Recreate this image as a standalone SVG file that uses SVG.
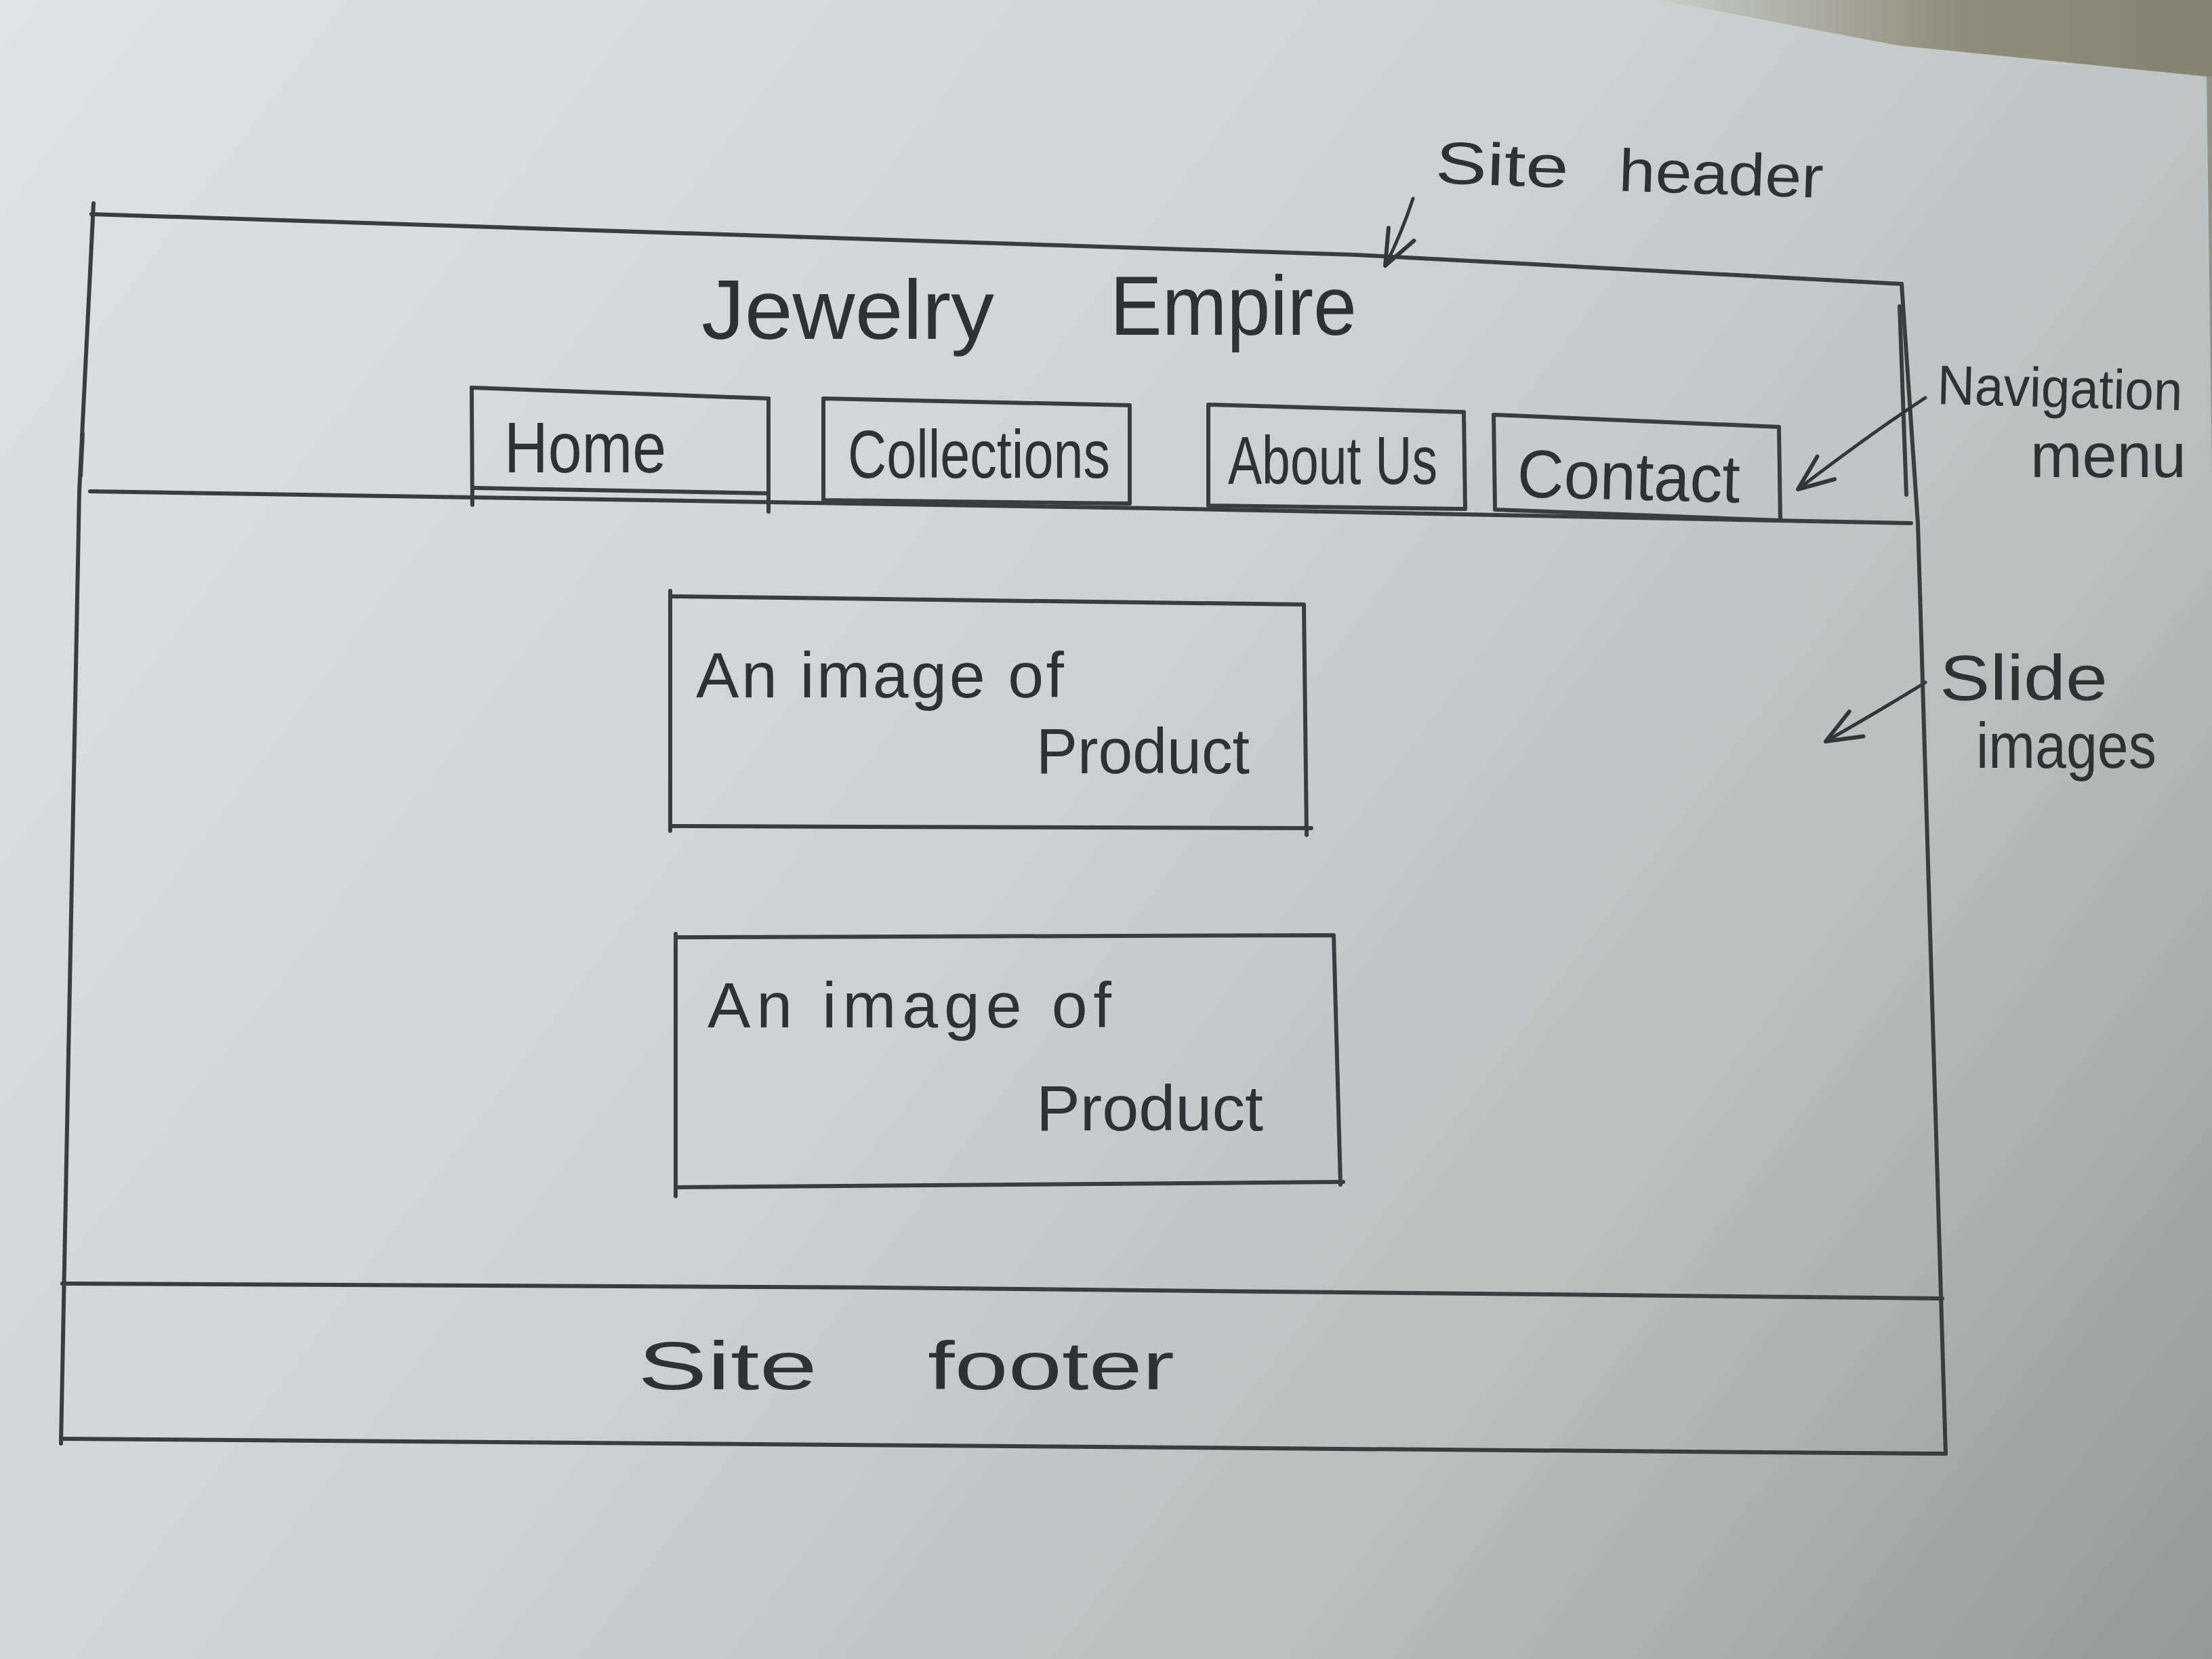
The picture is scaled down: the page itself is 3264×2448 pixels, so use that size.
<svg xmlns="http://www.w3.org/2000/svg" width="3264" height="2448" viewBox="0 0 3264 2448">
  <defs>
    <linearGradient id="paper" x1="0" y1="0" x2="3264" y2="2448" gradientUnits="userSpaceOnUse">
      <stop offset="0" stop-color="#dde3e2"/>
      <stop offset="0.45" stop-color="#cdd3d2"/>
      <stop offset="0.75" stop-color="#b7bdbb"/>
      <stop offset="1" stop-color="#939996"/>
    </linearGradient>
    <linearGradient id="table" x1="2450" y1="0" x2="3264" y2="0" gradientUnits="userSpaceOnUse">
      <stop offset="0" stop-color="#c9cdc7"/>
      <stop offset="0.55" stop-color="#8e8c7a"/>
      <stop offset="1" stop-color="#858371"/>
    </linearGradient>
    <marker id="arrow" viewBox="0 0 60 50" refX="56" refY="25" markerWidth="60" markerHeight="50" markerUnits="userSpaceOnUse" orient="auto">
      <path d="M4,4 L56,25 L4,46" fill="none" stroke="#34373a" stroke-width="6" stroke-linecap="round" stroke-linejoin="round"/>
    </marker>
    <style>
      .ln { fill: none; stroke: #3a3d40; stroke-width: 6; stroke-linecap: round; stroke-linejoin: round; }
      .hw { font-family: "Liberation Sans", "DejaVu Sans", sans-serif; fill: #2f3234; }
      .conn { fill: none; stroke: #34373a; stroke-width: 5; stroke-linecap: round; }
    </style>
  </defs>

  <!-- paper background -->
  <rect x="0" y="0" width="3264" height="2448" fill="url(#paper)"/>
  <polygon points="2450,0 3264,0 3264,118 3258,113 2800,67" fill="url(#table)"/>
  <polygon points="3256,113 3264,113 3264,700" fill="#8f918a"/>

  <!-- page frame -->
  <g id="frame">
    <path class="ln" d="M135,316 Q1100,350 2000,376 L2806,419"/>
    <path class="ln" d="M2806,419 L2830,772 L2871,2145"/>
    <path class="ln" d="M2803,452 L2813,730" stroke-width="9"/>
    <path class="ln" d="M138,300 L117,725 L90,2130"/>
    <path class="ln" d="M122,640 L119,702" stroke-width="9"/>
    <path class="ln" d="M90,2123 L2871,2145"/>
  </g>

  <!-- site header -->
  <g id="header">
    <path class="ln" d="M133,725 L1700,750 L2820,772"/>
    <text class="hw" font-size="125"><tspan x="1035" y="500" textLength="432" lengthAdjust="spacingAndGlyphs">Jewelry</tspan> <tspan x="1638" y="494" textLength="364" lengthAdjust="spacingAndGlyphs">Empire</tspan></text>
  </g>

  <!-- navigation items -->
  <g id="nav-home">
    <path class="ln" d="M696,572 L1134,588 L1134,755"/>
    <path class="ln" d="M696,572 L697,745"/>
    <path class="ln" d="M700,720 L1134,728"/>
    <text class="hw" x="744" y="697" font-size="105" textLength="239" lengthAdjust="spacingAndGlyphs">Home</text>
  </g>
  <g id="nav-collections">
    <path class="ln" d="M1215,588 L1667,598 L1667,743 L1215,738 Z"/>
    <text class="hw" x="1251" y="705" font-size="100" textLength="387" lengthAdjust="spacingAndGlyphs">Collections</text>
  </g>
  <g id="nav-about">
    <path class="ln" d="M1783,597 L2160,608 L2162,751 L1783,746 Z"/>
    <text class="hw" x="1812" y="714" font-size="100" textLength="309" lengthAdjust="spacingAndGlyphs">About Us</text>
  </g>
  <g id="nav-contact">
    <path class="ln" d="M2204,612 L2625,630 L2627,768 L2206,752 Z"/>
    <text class="hw" x="2238" y="733" font-size="100" textLength="329" lengthAdjust="spacingAndGlyphs" transform="rotate(1.5 2238 733)">Contact</text>
  </g>

  <!-- product images -->
  <g id="product-1">
    <path class="ln" d="M990,880 L1924,892 L1928,1232"/>
    <path class="ln" d="M989,872 L989,1226"/>
    <path class="ln" d="M989,1219 L1935,1222"/>
    <text class="hw" x="1027" y="1029" font-size="95" textLength="543" lengthAdjust="spacing">An image of</text>
    <text class="hw" x="1529" y="1141" font-size="95" textLength="315" lengthAdjust="spacingAndGlyphs">Product</text>
  </g>
  <g id="product-2">
    <path class="ln" d="M1000,1383 L1968,1380 L1978,1748"/>
    <path class="ln" d="M997,1378 L997,1765"/>
    <path class="ln" d="M999,1752 L1982,1744"/>
    <text class="hw" x="1044" y="1516" font-size="95" textLength="596" lengthAdjust="spacing">An image of</text>
    <text class="hw" x="1529" y="1668" font-size="95" textLength="335" lengthAdjust="spacingAndGlyphs">Product</text>
  </g>

  <!-- site footer -->
  <g id="footer">
    <path class="ln" d="M92,1894 L1300,1900 L2866,1916"/>
    <text class="hw" font-size="100"><tspan x="941" y="2050" textLength="265" lengthAdjust="spacingAndGlyphs">Site</tspan> <tspan x="1369" y="2050" textLength="364" lengthAdjust="spacingAndGlyphs">footer</tspan></text>
  </g>

  <!-- annotation labels -->
  <g id="label-site-header">
    <text class="hw" font-size="88" transform="rotate(2 2117 270)"><tspan x="2117" y="270" textLength="197" lengthAdjust="spacingAndGlyphs">Site</tspan> <tspan x="2388" y="272" textLength="302" lengthAdjust="spacingAndGlyphs">header</tspan></text>
  </g>
  <g id="label-navigation-menu">
    <text class="hw" x="2858" y="596" font-size="82" textLength="362" lengthAdjust="spacingAndGlyphs" transform="rotate(1.5 2858 596)">Navigation</text>
    <text class="hw" x="2996" y="704" font-size="92" textLength="230" lengthAdjust="spacingAndGlyphs">menu</text>
  </g>
  <g id="label-slide-images">
    <text class="hw" x="2862" y="1033" font-size="95" textLength="248" lengthAdjust="spacingAndGlyphs">Slide</text>
    <text class="hw" x="2916" y="1133" font-size="95" textLength="266" lengthAdjust="spacingAndGlyphs">images</text>
  </g>

  <!-- connectors -->
  <g id="connectors">
    <path class="conn" d="M2085,293 Q2068,345 2044,392" marker-end="url(#arrow)"/>
    <path class="conn" d="M2841,587 Q2760,640 2653,722" marker-end="url(#arrow)"/>
    <path class="conn" d="M2841,1007 Q2780,1045 2694,1094" marker-end="url(#arrow)"/>
  </g>
</svg>
